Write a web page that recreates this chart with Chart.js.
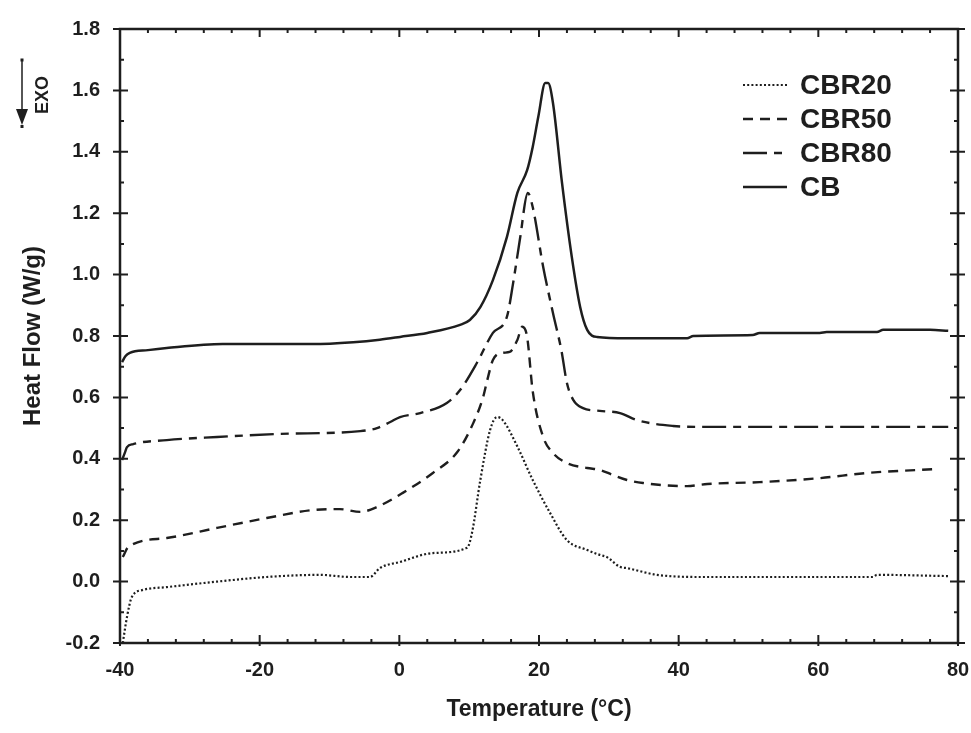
<!DOCTYPE html>
<html lang="en">
<head>
    <meta charset="UTF-8">
    <title>Heat flow DSC</title>
    <style>
        html, body { margin: 0; padding: 0; background: #ffffff; }
        #wrap { width: 971px; height: 733px; }
    </style>
    <script src="https://cdn.jsdelivr.net/npm/chart.js"></script>
    <script>
        // curve values (temperature in °C, heat flow in W/g)
        const cbr20Temp = [-39.6, -39.0, -38.3, -36.7, -33.3, -26.1, -19, -11.4, -7.1, -4.2, -2.8, 0.1, 4.8, 9.7, 10.4, 11.6, 13, 14, 14.8, 16.9, 19.1, 21.6, 24, 26.9, 28.7, 29.7, 31.6, 32.6, 36.9, 43.5, 67.8, 68.4, 78.6];
        const cbr20Flow = [-0.2, -0.115, -0.05, -0.027, -0.018, 0, 0.015, 0.022, 0.015, 0.015, 0.044, 0.064, 0.093, 0.11, 0.158, 0.331, 0.494, 0.536, 0.526, 0.44, 0.331, 0.223, 0.135, 0.103, 0.087, 0.08, 0.048, 0.044, 0.022, 0.015, 0.015, 0.022, 0.018];

        const cbr50Temp = [-39.6, -38.8, -33.3, -26.1, -19, -12.4, -8.5, -5.6, -3.2, 0.5, 4.8, 8.3, 10.6, 12.0, 12.6, 13.4, 14.8, 15.8, 16.9, 17.6, 18.3, 19.1, 20.6, 22, 24, 26.9, 28.7, 30.6, 32.6, 34.9, 41.2, 44.1, 51.6, 60.2, 67, 74.6, 77.1];
        const cbr50Flow = [0.08, 0.113, 0.142, 0.175, 0.207, 0.233, 0.236, 0.227, 0.243, 0.289, 0.354, 0.422, 0.517, 0.601, 0.657, 0.722, 0.745, 0.748, 0.787, 0.83, 0.797, 0.62, 0.471, 0.419, 0.386, 0.37, 0.364, 0.347, 0.331, 0.321, 0.311, 0.318, 0.324, 0.337, 0.354, 0.364, 0.367];

        const cbr80Temp = [-39.7, -39.3, -39.0, -38.1, -33.3, -26.1, -17.1, -5.6, -3.2, -1.3, 0.1, 3, 6.8, 8.7, 11.1, 13.4, 15.4, 16.3, 17.3, 18.4, 19.1, 20.6, 22.0, 23.2, 24.0, 24.9, 26.3, 28.7, 31.6, 34.0, 39.2, 43, 78.6];
        const cbr80Flow = [0.396, 0.42, 0.438, 0.448, 0.461, 0.471, 0.481, 0.49, 0.5, 0.52, 0.536, 0.549, 0.582, 0.624, 0.712, 0.81, 0.862, 0.973, 1.12, 1.266, 1.22, 1.025, 0.875, 0.754, 0.647, 0.592, 0.565, 0.556, 0.549, 0.526, 0.507, 0.504, 0.504];

        const cbTemp = [-39.7, -39.2, -38.6, -36, -33.3, -25.3, -12.4, -6.6, -2.8, 0.1, 4, 8.7, 10.1, 11.6, 13.4, 15.4, 16.9, 18.3, 19.1, 19.9, 20.9, 21.3, 22.0, 23.3, 24.7, 25.9, 26.9, 28.3, 32.6, 41.2, 42.1, 50.6, 51.6, 60.2, 61.2, 68.4, 69.3, 76, 78.6];
        const cbFlow = [0.715, 0.735, 0.745, 0.754, 0.761, 0.774, 0.774, 0.78, 0.788, 0.797, 0.81, 0.836, 0.852, 0.894, 0.982, 1.122, 1.266, 1.34, 1.416, 1.514, 1.624, 1.624, 1.559, 1.298, 1.057, 0.894, 0.82, 0.797, 0.793, 0.793, 0.8, 0.803, 0.81, 0.81, 0.813, 0.813, 0.82, 0.82, 0.817];

        const seriesNames = ["CBR20", "CBR50", "CBR80", "CB"];
        const xTicks = [-40, -20, 0, 20, 40, 60, 80];
        const yTicks = [-0.2, 0.0, 0.2, 0.4, 0.6, 0.8, 1.0, 1.2, 1.4, 1.6, 1.8];
        const xMinorStep = 4;
        const yMinorStep = 0.1;

        const ink = "#1e1e1e";
        const fontFam = "'Liberation Sans', Arial, sans-serif";

        function punti(temp, flow) {
            return temp.map((t, i) => ({ x: t, y: flow[i] }));
        }

        // box round the plot with ticks on all four sides
        const cornice = {
            id: "cornice",
            afterDatasetsDraw(chart) {
                const { ctx, chartArea: a, scales } = chart;
                const sx = scales.x, sy = scales.y;
                ctx.save();
                ctx.strokeStyle = ink;
                ctx.lineWidth = 2.5;
                ctx.strokeRect(a.left, a.top, a.right - a.left, a.bottom - a.top);
                ctx.lineWidth = 2;
                ctx.beginPath();
                for (let v = xTicks[0]; v <= xTicks[xTicks.length - 1] + 0.001; v += xMinorStep) {
                    const px = sx.getPixelForValue(v);
                    const major = xTicks.includes(Math.round(v));
                    const inner = major ? 8 : 4;
                    ctx.moveTo(px, a.bottom + (major ? 3 : 1));
                    ctx.lineTo(px, a.bottom - inner);
                    ctx.moveTo(px, a.top - 1);
                    ctx.lineTo(px, a.top + inner);
                }
                for (let k = 0; k <= Math.round((yTicks[yTicks.length - 1] - yTicks[0]) / yMinorStep); k++) {
                    const v = yTicks[0] + k * yMinorStep;
                    const py = sy.getPixelForValue(v);
                    const major = k % 2 === 0;
                    const out = major ? 7 : 1;
                    const inner = major ? 8 : 4;
                    ctx.moveTo(a.left - out, py);
                    ctx.lineTo(a.left + inner, py);
                    ctx.moveTo(a.right + out, py);
                    ctx.lineTo(a.right - inner, py);
                }
                ctx.stroke();
                ctx.restore();
            }
        };

        // legend drawn inside the plot, top right
        const legenda = {
            id: "legenda",
            afterDraw(chart) {
                const { ctx, chartArea: a } = chart;
                ctx.save();
                chart.data.datasets.forEach((ds, i) => {
                    const yy = a.top + 56 + i * 34;
                    ctx.strokeStyle = ds.borderColor;
                    ctx.lineWidth = ds.borderWidth;
                    ctx.setLineDash(ds.borderDash || []);
                    ctx.beginPath();
                    ctx.moveTo(a.right - 215, yy);
                    ctx.lineTo(a.right - 171, yy);
                    ctx.stroke();
                    ctx.setLineDash([]);
                    ctx.fillStyle = ink;
                    ctx.font = "bold 28px " + fontFam;
                    ctx.textBaseline = "middle";
                    ctx.textAlign = "left";
                    ctx.fillText(ds.label, a.right - 158, yy + 1);
                });
                ctx.restore();
            }
        };

        // EXO arrow in the top left corner
        const freccia = {
            id: "freccia",
            afterDraw(chart) {
                const ctx = chart.ctx;
                const x0 = 22, top = 60, tip = 125;
                ctx.save();
                ctx.strokeStyle = ink;
                ctx.fillStyle = ink;
                ctx.lineWidth = 1.5;
                ctx.beginPath();
                ctx.moveTo(x0, top);
                ctx.lineTo(x0, tip - 12);
                ctx.stroke();
                ctx.fillRect(x0 - 1.5, top - 1.5, 3, 3);
                ctx.beginPath();
                ctx.moveTo(x0 - 6, tip - 16);
                ctx.lineTo(x0 + 6, tip - 16);
                ctx.lineTo(x0, tip);
                ctx.closePath();
                ctx.fill();
                ctx.fillRect(x0 - 1.5, tip, 3, 3);
                ctx.translate(43, 95);
                ctx.rotate(-Math.PI / 2);
                ctx.font = "bold 18px " + fontFam;
                ctx.textAlign = "center";
                ctx.textBaseline = "middle";
                ctx.fillText("EXO", 0, 0);
                ctx.restore();
            }
        };

        function disegna() {
            const ctx = document.getElementById("dsc").getContext("2d");
            const stili = [
                { dash: [2, 2.2], w: 2.2 },
                { dash: [10, 7], w: 2.4 },
                { dash: [24, 7, 8, 7], w: 2.4 },
                { dash: [], w: 2.5 }
            ];
            const serie = [punti(cbr20Temp, cbr20Flow), punti(cbr50Temp, cbr50Flow), punti(cbr80Temp, cbr80Flow), punti(cbTemp, cbFlow)];
            new Chart(ctx, {
                type: "line",
                data: {
                    datasets: serie.map((d, i) => ({
                        label: seriesNames[i],
                        data: d,
                        borderColor: ink,
                        borderWidth: stili[i].w,
                        borderDash: stili[i].dash,
                        pointRadius: 0,
                        fill: false,
                        cubicInterpolationMode: "monotone"
                    }))
                },
                options: {
                    responsive: false,
                    animation: false,
                    layout: { padding: { top: 29, right: 13, left: 0, bottom: 0 } },
                    plugins: { legend: { display: false }, tooltip: { enabled: false } },
                    scales: {
                        x: {
                            type: "linear",
                            min: -40, max: 80,
                            afterBuildTicks: s => { s.ticks = xTicks.map(v => ({ value: v })); },
                            afterFit: s => { s.height = 90; s.paddingRight = 0; s.paddingLeft = 0; },
                            grid: { display: false, drawTicks: false },
                            border: { display: false },
                            ticks: {
                                color: ink, padding: 15,
                                font: { family: fontFam, size: 20, weight: "bold" },
                                callback: v => String(v)
                            },
                            title: {
                                display: true, text: "Temperature (°C)", color: ink,
                                font: { family: fontFam, size: 23, weight: "bold" },
                                padding: { top: 0, bottom: 10 }
                            }
                        },
                        y: {
                            type: "linear",
                            min: -0.2, max: 1.8,
                            afterBuildTicks: s => { s.ticks = yTicks.map(v => ({ value: v })); },
                            afterFit: s => { s.width = 120; s.paddingTop = 0; s.paddingBottom = 0; },
                            grid: { display: false, drawTicks: false },
                            border: { display: false },
                            ticks: {
                                color: ink, padding: 20,
                                font: { family: fontFam, size: 20, weight: "bold" },
                                callback: v => Number(v).toFixed(1)
                            },
                            title: {
                                display: true, text: "Heat Flow (W/g)", color: ink,
                                font: { family: fontFam, size: 24, weight: "bold" },
                                padding: { top: 19, bottom: 0 }
                            }
                        }
                    }
                },
                plugins: [cornice, legenda, freccia]
            });
        }

        window.onload = disegna;
    </script>
</head>
<body>
    <div id="wrap"><canvas id="dsc" width="971" height="733"></canvas></div>
</body>
</html>
